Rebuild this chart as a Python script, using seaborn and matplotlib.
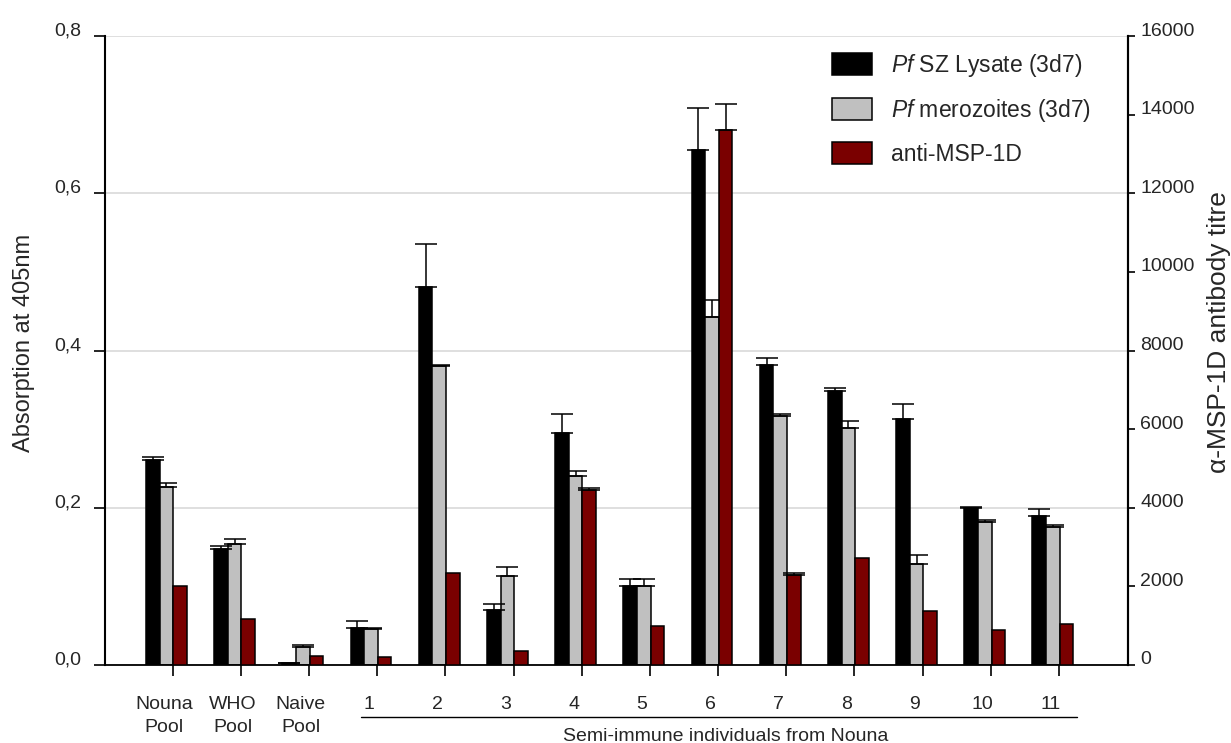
import numpy as np
import pandas as pd
import matplotlib
matplotlib.use("Agg")
import matplotlib.pyplot as plt
import matplotlib.transforms as mtransforms
from matplotlib.patches import Patch
from matplotlib.lines import Line2D
import seaborn as sns

# Samples (x axis)
samples = ['Nouna\nPool', 'WHO\nPool', 'Naive\nPool',
           '1', '2', '3', '4', '5', '6', '7', '8', '9', '10', '11']

# Absorption at 405nm (left axis)
lysate = [0.261, 0.147, 0.002, 0.047, 0.481, 0.070, 0.295, 0.100,
          0.655, 0.381, 0.349, 0.313, 0.200, 0.190]
lysate_err = [0.003, 0.004, 0.001, 0.009, 0.054, 0.007, 0.024, 0.009,
              0.054, 0.010, 0.003, 0.019, 0.001, 0.009]
merozoites = [0.226, 0.154, 0.0225, 0.046, 0.380, 0.113, 0.241, 0.100,
              0.442, 0.317, 0.301, 0.1285, 0.1815, 0.176]
merozoites_err = [0.0055, 0.006, 0.0035, 0.001, 0.002, 0.012, 0.006, 0.010,
                  0.022, 0.002, 0.009, 0.012, 0.0035, 0.0025]

# anti-MSP-1D antibody titre (right axis)
msp_titre = [2010, 1160, 230, 210, 2350, 350, 4460, 980,
             13620, 2300, 2710, 1380, 890, 1035]
msp_err = [0, 0, 0, 0, 0, 0, 50, 0, 650, 40, 0, 0, 0, 0]

series_names = ['lysate', 'merozoites', 'msp']
series_labels = [r'$\it{Pf}$ SZ Lysate (3d7)', r'$\it{Pf}$ merozoites (3d7)', 'anti-MSP-1D']
colors = {'lysate': '#000000', 'merozoites': '#c0c0c0', 'msp': '#7a0000'}


def px_offset(fig, dx, dy):
    return mtransforms.ScaledTranslation(dx / 100, dy / 100, fig.dpi_scale_trans)


def add_up_errors(ax, errs):
    """Draw upward-only error bars on top of the non-empty bar containers"""
    conts = [c for c in ax.containers if len(c) > 0]
    for cont, err in zip(conts, errs):
        keep = [(b, e) for b, e in zip(cont, err) if e > 0]
        xs = [b.get_x() + b.get_width() / 2 for b, e in keep]
        hs = [b.get_height() for b, e in keep]
        es = [e for b, e in keep]
        ax.errorbar(xs, hs, yerr=[np.zeros(len(es)), es], fmt='none',
                    ecolor='black', elinewidth=1.1, capsize=8, capthick=1.1)


def main():
    sns.set_style('white')
    plt.rcParams['font.family'] = ['Liberation Sans', 'DejaVu Sans']
    plt.rcParams['mathtext.fontset'] = 'custom'
    plt.rcParams['mathtext.it'] = 'Liberation Sans:italic'
    plt.rcParams['mathtext.rm'] = 'Liberation Sans'

    absorb = pd.DataFrame({
        'sample': samples * 2,
        'value': lysate + merozoites,
        'series': ['lysate'] * len(samples) + ['merozoites'] * len(samples),
    })
    titre = pd.DataFrame({'sample': samples, 'value': msp_titre,
                          'series': ['msp'] * len(samples)})

    fig = plt.figure(figsize=(12.31, 7.43), dpi=100)
    ax = fig.add_axes([0.0853, 0.105, 0.9163 - 0.0853, 0.9515 - 0.105])
    ax2 = ax.twinx()

    bar_kw = dict(x='sample', y='value', hue='series', order=samples,
                  hue_order=series_names, palette=colors, width=0.6, dodge=True,
                  saturation=1, errorbar=None, edgecolor='black', linewidth=1.1,
                  legend=False)
    sns.barplot(data=absorb, ax=ax, **bar_kw)
    sns.barplot(data=titre, ax=ax2, **bar_kw)

    add_up_errors(ax, [lysate_err, merozoites_err])
    add_up_errors(ax2, [msp_err])

    # axes limits and ticks
    ax.set_xlim(-0.9, 14.1)
    ax.set_ylim(0, 0.8)
    ax2.set_ylim(0, 16000)
    ax.set_xlabel('')
    ax.set_ylabel('')
    ax2.set_xlabel('')
    ax2.set_ylabel('')

    yt = [0.0, 0.2, 0.4, 0.6, 0.8]
    ax.set_yticks(yt)
    ax.set_yticklabels([f'{v:.1f}'.replace('.', ',') for v in yt], fontsize=14)
    rt = list(range(0, 16001, 2000))
    ax2.set_yticks(rt)
    ax2.set_yticklabels([str(v) for v in rt], fontsize=14)

    ax.set_xticks(range(len(samples)))
    ax.set_xticklabels(samples, fontsize=14, linespacing=1.5)
    ax.set_xticks(np.arange(len(samples)) + 0.09, minor=True)
    ax.tick_params(axis='x', which='major', length=0, pad=22)
    ax.tick_params(axis='x', which='minor', bottom=True, length=8, width=1.2,
                   color='black')
    ax.tick_params(axis='y', left=True, length=8, width=1.2, pad=9, color='black')
    ax2.tick_params(axis='y', right=True, length=5, width=1.2, pad=4, color='black')

    for lab in ax.get_xticklabels():
        lab.set_transform(lab.get_transform() + px_offset(fig, -2, 0))
    for lab in ax.get_yticklabels() + ax2.get_yticklabels():
        lab.set_transform(lab.get_transform() + px_offset(fig, 0, 7))

    ax.yaxis.grid(True, color='#d9d9d9', linewidth=1.2)
    ax.xaxis.grid(False)
    ax2.grid(False)
    ax.set_axisbelow(True)

    for a in (ax, ax2):
        a.spines['top'].set_visible(False)
        a.spines['left'].set_linewidth(1.5)
        a.spines['bottom'].set_linewidth(1.3)
        a.spines['right'].set_linewidth(1.5)
        for s in a.spines.values():
            s.set_color('black')
    ax2.spines['left'].set_visible(False)
    ax2.spines['bottom'].set_visible(False)

    # axis titles
    fig.text(24 / 1231, 1 - 343 / 743, 'Absorption at 405nm', rotation=90,
             ha='center', va='center', fontsize=17)
    fig.text(1219 / 1231, 1 - 332 / 743, 'α-MSP-1D antibody titre', rotation=90,
             ha='center', va='center', fontsize=19)

    # group line for the semi-immune individuals
    trans = mtransforms.blended_transform_factory(ax.transData, ax.transAxes)
    ax.add_line(Line2D([2.85, 13.36], [-0.0827, -0.0827], transform=trans,
                       color='black', linewidth=1.0, clip_on=False))
    ax.text(8.2, -0.113, 'Semi-immune individuals from Nouna', transform=trans,
            ha='center', va='center', fontsize=14)

    handles = [Patch(facecolor=colors[s], edgecolor='black', linewidth=1.1)
               for s in series_names]
    ax2.legend(handles, series_labels, loc='upper left', bbox_to_anchor=(0.7107, 0.975),
               frameon=False, fontsize=16.5, borderpad=0, borderaxespad=0,
               handlelength=1.75, handleheight=1.09, handletextpad=0.82,
               labelspacing=0.8)

    fig.savefig('out.png', dpi=100)
    plt.close(fig)


if __name__ == "__main__":
    main()
